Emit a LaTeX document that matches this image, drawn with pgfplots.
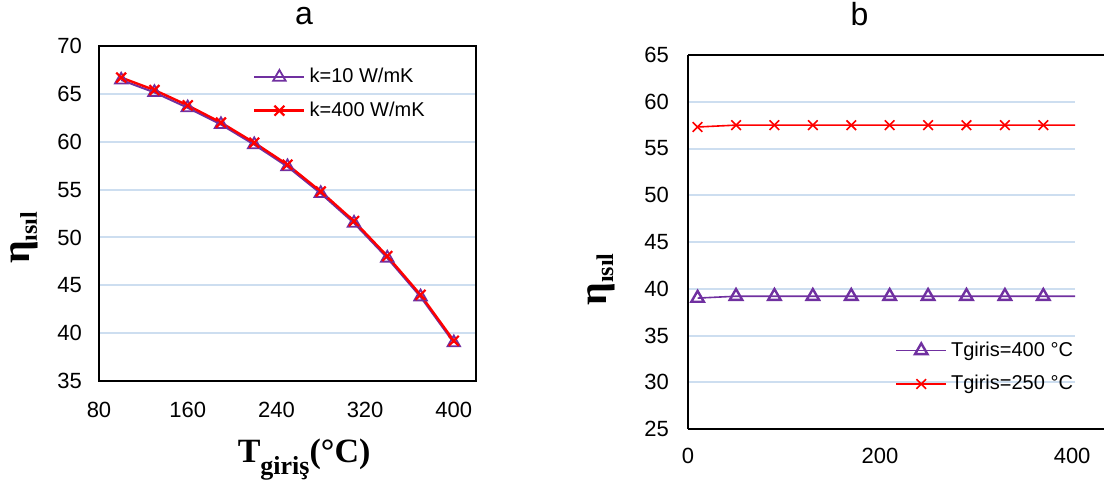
\documentclass[border=0pt]{standalone}
\usepackage{fontspec}
\setmainfont{Liberation Sans}
\newfontfamily\serif{Liberation Serif}
\usepackage{pgfplots}
\pgfplotsset{compat=1.18}
\definecolor{mypurple}{RGB}{112,48,160}
\definecolor{gridblue}{RGB}{205,222,240}

\pgfplotsset{
 common/.style={
  scale only axis,
  /pgf/number format/assume math mode=true,
  tick label style={font=\fontsize{11}{13}\selectfont},
  major tick length=0pt,
  ymajorgrids, grid style={gridblue, line width=1pt},
  axis line style={line width=1pt, black},
  legend cell align=left,
  legend style={draw=none, fill=none, font=\fontsize{10}{12}\selectfont, inner sep=0pt, row sep=4pt},
  legend image code/.code={\draw[mark indices={2}] plot coordinates {(0pt,0pt)(12.5pt,0pt)(25pt,0pt)};},
 }
}

\begin{document}
\begin{tikzpicture}
\path[use as bounding box] (0,0) rectangle (552pt,242pt);
% ---------------- panel a
\begin{axis}[common, at={(49.5pt,51.5pt)}, anchor=south west,
 width=188.5pt, height=167.5pt,
 xmin=80, xmax=420, ymin=35, ymax=70,
 xtick={80,160,...,400}, ytick={35,40,...,70},
 xticklabel style={yshift=-7pt}, yticklabel style={xshift=-5pt},
 title={a}, title style={at={(0.544,1.063)}, anchor=base, yshift=-6pt, font=\fontsize{16}{16}\selectfont},
 xlabel={\serif\bfseries\fontsize{17}{17}\selectfont T\raisebox{-6pt}{\fontsize{13}{13}\selectfont giriş}(°C)},
 xlabel style={at={(axis description cs:0.544,-0.242)}, anchor=base},
 ylabel={\serif\bfseries\fontsize{20}{20}\selectfont η\raisebox{-3.5pt}{\fontsize{12}{12}\selectfont ısıl}},
 ylabel style={at={(axis description cs:-0.197,0.427)}, anchor=center},
 legend style={at={(0.408,0.857)}, anchor=west},
]
\addplot[mypurple, line width=1pt, mark=triangle, mark size=3.6pt, mark options={solid, line width=0.9pt}]
 coordinates {(100,66.45)(130,65.15)(160,63.55)(190,61.8)(220,59.7)(250,57.4)(280,54.6)(310,51.5)(340,47.85)(370,43.8)(400,39.0)};
\addlegendentry{k=10 W/mK}
\addplot[red, line width=1.2pt, mark=x, mark size=3.5pt, mark options={solid, line width=1.1pt}]
 coordinates {(100,66.7)(130,65.4)(160,63.8)(190,62.0)(220,59.9)(250,57.6)(280,54.8)(310,51.7)(340,48.05)(370,44.0)(400,39.2)};
\addlegendentry{k=400 W/mK}
\end{axis}
% ---------------- panel b
\begin{axis}[common, name=B, at={(344pt,27.5pt)}, anchor=south west,
 width=193.5pt, height=187pt,
 xmin=0, xmax=403, ymin=25, ymax=65,
 xtick={0,200,400}, ytick={25,30,...,65},
 axis x line*=box, axis y line*=left, axis line style={-},
 xticklabel style={yshift=-6pt}, yticklabel style={xshift=-6pt},
 title={b}, title style={at={(0.443,1.08)}, anchor=base, yshift=-6pt, font=\fontsize{16}{16}\selectfont},
 ylabel={\serif\bfseries\fontsize{20}{20}\selectfont η\raisebox{-3.5pt}{\fontsize{12}{12}\selectfont ısıl}},
 ylabel style={at={(axis description cs:-0.225,0.40)}, anchor=center},
 legend style={at={(0.535,0.165)}, anchor=west},
]
\addplot[mypurple, line width=0.8pt, mark=triangle, mark size=3.6pt, mark indices={1,2,3,4,5,6,7,8,9,10}, mark options={solid, line width=1.2pt}]
 coordinates {(10,39.0)(50,39.2)(90,39.2)(130,39.2)(170,39.2)(210,39.2)(250,39.2)(290,39.2)(330,39.2)(370,39.2)(410,39.2)};
\addlegendentry{Tgiris=400 °C}
\addplot[red, line width=0.8pt, mark=x, mark size=3.4pt, mark indices={1,2,3,4,5,6,7,8,9,10}, mark options={solid, line width=0.8pt}]
 coordinates {(10,57.3)(50,57.5)(90,57.5)(130,57.5)(170,57.5)(210,57.5)(250,57.5)(290,57.5)(330,57.5)(370,57.5)(410,57.5)};
\addlegendentry{Tgiris=250 °C}
\end{axis}
\draw[line width=1pt] ([xshift=-0.5pt]B.north east) -- ++(15pt,0);
\draw[line width=1pt] ([xshift=-0.5pt]B.south east) -- ++(15pt,0);
\end{tikzpicture}
\end{document}
